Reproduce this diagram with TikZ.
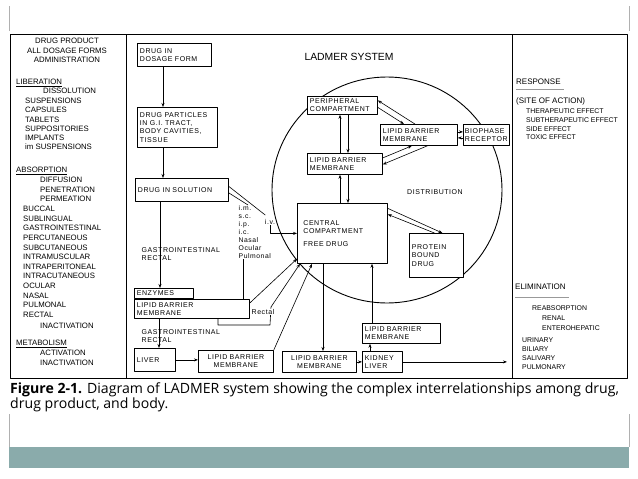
\documentclass[tikz,border=0pt]{standalone}
\usepackage{fontspec}
\setmainfont{Liberation Sans}
\newfontfamily\boxfont[LetterSpace=8]{Liberation Sans}
\newfontfamily\capfont{Open Sans}
\usetikzlibrary{arrows.meta}

\definecolor{slideteal}{HTML}{8AABAB}
\definecolor{slidegray}{HTML}{B0B0B0}

\tikzset{
  box/.style={draw, line width=0.8pt, fill=white, anchor=north west, align=left,
    inner xsep=2.5pt, inner ysep=1pt, font=\boxfont\fontsize{7}{8.3}\selectfont},
  cbox/.style={box, align=center},
  arr/.style={line width=0.6pt, -{Stealth[length=4pt,width=3pt]}},
  wire/.style={line width=0.6pt},
  col/.style={anchor=north west, align=left, inner sep=0pt, font=\fontsize{7.8}{9.6}\selectfont},
  elist/.style={anchor=north west, align=left, inner sep=0pt, font=\fontsize{6.9}{8.8}\selectfont},
  lab/.style={inner sep=0.5pt, font=\boxfont\fontsize{7}{8.3}\selectfont},
  rule/.style={line width=0.5pt, black!40},
}

\begin{document}
\begin{tikzpicture}[x=1pt, y=-1pt, line join=round]
  \useasboundingbox (0,0) rectangle (638,479);

  %% ---- slide decoration ----
  \draw[slidegray, line width=0.6pt] (9,6) -- (9,31);
  \draw[slidegray, line width=0.6pt] (629,6) -- (629,31);
  \draw[slidegray, line width=0.6pt] (9,414) -- (9,447);
  \draw[slidegray, line width=0.6pt] (629,414) -- (629,447);
  \fill[slideteal] (9,447) rectangle (629,468);

  %% ---- figure frame ----
  \draw[line width=1pt] (10,34) rectangle (627,378);
  \draw[line width=1pt] (126,34) -- (126,378);
  \draw[line width=1pt] (512,34) -- (512,378);

  %% ---- left column ----
  \node[col, anchor=north, align=center] (prod) at (67,38) {DRUG PRODUCT\\ALL DOSAGE FORMS\\ADMINISTRATION};
  \node[col] (lib) at (16,79) {\underline{LIBERATION}};
  \node[col] (diss) at (43,88) {DISSOLUTION};
  \node[col, font=\fontsize{7.8}{9.2}\selectfont] (forms) at (25,98) {SUSPENSIONS\\CAPSULES\\TABLETS\\SUPPOSITORIES\\IMPLANTS\\im SUSPENSIONS};
  \node[col] (absorb) at (16,167) {\underline{ABSORPTION}};
  \node[col] (proc) at (40,177) {DIFFUSION\\PENETRATION\\PERMEATION};
  \node[col] (sites) at (23,206) {BUCCAL\\SUBLINGUAL\\GASTROINTESTINAL\\PERCUTANEOUS\\SUBCUTANEOUS\\INTRAMUSCULAR\\INTRAPERITONEAL\\INTRACUTANEOUS\\OCULAR\\NASAL\\PULMONAL\\RECTAL};
  \node[col] (inact) at (40,323) {INACTIVATION};
  \node[col] (metab) at (16,340) {\underline{METABOLISM}};
  \node[col] (metlist) at (40,350) {ACTIVATION\\INACTIVATION};

  %% ---- right column ----
  \node[col, font=\fontsize{8}{9}\selectfont] (resp) at (516,79) {RESPONSE};
  \draw[rule] ([yshift=-4]resp.south west) -- ([xshift=3,yshift=-4]resp.south east);
  \node[col, font=\fontsize{8}{9}\selectfont] (site) at (516,98) {(SITE OF ACTION)};
  \node[elist] (effects) at (526,108.5) {THERAPEUTIC EFFECT\\SUBTHERAPEUTIC EFFECT\\SIDE EFFECT\\TOXIC EFFECT};
  \node[col, font=\fontsize{8}{9}\selectfont] (elim) at (515,284) {ELIMINATION};
  \draw[rule] ([yshift=-7]elim.south west) -- ([xshift=3,yshift=-7]elim.south east);
  \node[elist] (reab) at (532,305.5) {REABSORPTION};
  \node[elist, font=\fontsize{6.9}{10}\selectfont] (renal) at (542,315.5) {RENAL\\ENTEROHEPATIC};
  \node[elist, font=\fontsize{6.9}{9}\selectfont] (outways) at (522,337.5) {URINARY\\BILIARY\\SALIVARY\\PULMONARY};

  %% ---- ladmer system ----
  \node[font=\fontsize{10.4}{12}\selectfont] (title) at (349,57) {LADMER SYSTEM};
  \draw[line width=0.9pt] (387,190) ellipse [x radius=115pt, y radius=113pt];
  \node[lab] (distr) at (435,192) {DISTRIBUTION};

  \node[box, text width=69, minimum height=23] (dosage) at (137,43) {DRUG IN\\DOSAGE FORM};
  \node[box, text width=75, minimum height=40] (particles) at (137,107) {DRUG PARTICLES\\IN G.I. TRACT,\\BODY CAVITIES,\\TISSUE};
  \node[box, text width=88, minimum height=23] (solution) at (135,178) {DRUG IN SOLUTION};
  \node[box, text width=54, minimum height=10, inner ysep=0.5pt] (enzymes) at (134,288) {ENZYMES};
  \node[box, text width=110, minimum height=19] (lipidA) at (134,299) {LIPID BARRIER\\MEMBRANE};
  \node[box, text width=36, minimum height=23] (liver) at (134,348) {LIVER};
  \node[cbox, text width=70, minimum height=22] (lipidB) at (198,350) {LIPID BARRIER\\MEMBRANE};
  \node[cbox, text width=69, minimum height=21] (lipidC) at (282,351) {LIPID BARRIER\\MEMBRANE};
  \node[box, text width=35, minimum height=21] (kidney) at (362,351) {KIDNEY\\LIVER};
  \node[box, text width=73, minimum height=20] (lipidD) at (362,323) {LIPID BARRIER\\MEMBRANE};
  \node[box, text width=78, inner xsep=6pt, minimum height=60] (central) at (297,203) {CENTRAL\\COMPARTMENT\\[4pt]FREE DRUG};
  \node[box, text width=49, minimum height=44] (protein) at (409,233) {PROTEIN\\BOUND\\DRUG};
  \node[box, text width=70, minimum height=21] (lipidE) at (307,153) {LIPID BARRIER\\MEMBRANE};
  \node[box, text width=65, minimum height=18] (peripheral) at (307,96) {PERIPHERAL\\COMPARTMENT};
  \node[box, text width=72, minimum height=21] (lipidF) at (380,124) {LIPID BARRIER\\MEMBRANE};
  \node[box, text width=43, inner xsep=1.5pt, minimum height=21] (biophase) at (463,124) {BIOPHASE\\RECEPTOR};

  \node[lab, anchor=west] (gi1) at (141,250) {GASTROINTESTINAL};
  \node[lab, anchor=west] (rec1) at (141,258) {RECTAL};
  \node[lab, anchor=west] (gi2) at (141,332) {GASTROINTESTINAL};
  \node[lab, anchor=west] (rec2) at (141,340) {RECTAL};
  \node[lab, anchor=north west, align=left, font=\boxfont\fontsize{6.8}{8}\selectfont] (routes) at (238,205) {i.m.\\s.c.\\i.p.\\i.c.\\Nasal\\Ocular\\Pulmonal};
  \node[lab] (iv) at (270,222) {i.v.};

  %% spines
  \coordinate (xa) at (163,0);
  \coordinate (xb) at (160,0);
  \coordinate (xc) at (159,0);
  \coordinate (xd) at (340,0);
  \coordinate (xe) at (348,0);
  \coordinate (xf) at (323,0);
  \coordinate (xg) at (372,0);
  \coordinate (xh) at (370,0);
  \coordinate (xr) at (243,0);
  \coordinate (xs) at (218,0);
  \coordinate (rk) at (270,325);
  \coordinate (rkt) at (271,307);
  \coordinate (exitR) at (507,0);

  %% ---- connectors ----
  \draw[arr] (dosage.south -| xa) -- (particles.north -| xa);
  \draw[arr] (particles.south -| xa) -- (solution.north -| xa);
  \draw[arr] (solution.south -| xb) -- (enzymes.north -| xb);
  \draw[arr] (lipidA.south -| xc) -- (liver.north -| xc);
  \draw[arr] (liver.east) -- (liver.east -| lipidB.west);
  \draw[arr] (lipidC.east) -- (kidney.west);
  \draw[arr] (kidney.north -| xh) -- (lipidD.south -| xh);
  \draw[arr] (kidney.east) -- (kidney.east -| exitR);
  \draw[arr] (central.south -| xf) -- (lipidC.north -| xf);
  \draw[arr] (lipidD.north -| xg) -- (central.south -| xg);

  \draw[arr] (lipidE.north -| xd) -- (peripheral.south -| xd);
  \draw[arr] (peripheral.south -| xe) -- (lipidE.north -| xe);
  \draw[arr] (central.north -| xd) -- (lipidE.south -| xd);
  \draw[arr] (lipidE.south -| xe) -- (central.north -| xe);

  \draw[arr] ([xshift=-4]lipidF.north) -- ([yshift=5]peripheral.east);
  \draw[arr] ([yshift=-2]peripheral.east) -- ([xshift=-15]lipidF.north);
  \draw[arr] ([yshift=6]lipidE.east) -- ([xshift=-7]lipidF.south);
  \draw[arr] ([xshift=8.5]lipidF.south) -- ([yshift=-0.5]lipidE.east);
  \draw[arr] ([yshift=3]lipidF.east) -- ([yshift=3]biophase.west);
  \draw[arr] ([yshift=-3]biophase.west) -- ([yshift=-3]lipidF.east);
  \draw[arr] ([yshift=25]central.east) -- ([xshift=6]protein.north);
  \draw[arr] ([xshift=-2]protein.north) -- ([yshift=19]central.east);

  \draw[wire, shorten >=6pt] ([yshift=3.5]solution.east) -- (iv.north);
  \draw[wire] ([yshift=-3]solution.east) -- ([xshift=10]routes.north west);
  \draw[arr] (iv.south) |- (central.west);
  \draw[wire] (routes.south -| xr) -- (lipidA.north -| xr);
  \draw[arr] ([yshift=-4]lipidA.north east) -- ([yshift=5]central.south west);
  \draw[arr] (lipidA.south -| xs) |- (rk) -- (rkt) -- ([xshift=3]central.south west);
  \draw[arr] (lipidB.north east) -- ([xshift=15]central.south west);
  \node[lab, fill=white] (rectal) at (263,312) {Rectal};

  %% ---- caption ----
  \node[anchor=north west, inner sep=0pt, align=left, font=\capfont\fontsize{14.1}{15}\selectfont] (caption) at (10,382.5)
    {\textbf{Figure 2-1.} Diagram of LADMER system showing the complex interrelationships among drug,\\drug product, and body.};
\end{tikzpicture}
\end{document}
